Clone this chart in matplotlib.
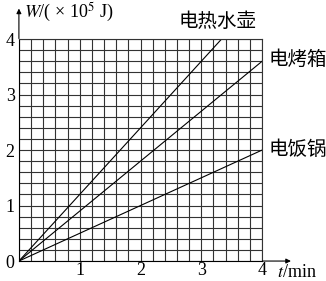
import matplotlib.pyplot as plt
from matplotlib.ticker import MultipleLocator

plt.rcParams['font.family'] = ['Liberation Serif', 'Noto Sans CJK SC']
plt.rcParams['mathtext.fontset'] = 'stix'

# time (min) and energy W (x 10^5 J)
t = [0, 4]
kettle = [0, 4.8]
oven = [0, 3.6]
cooker = [0, 2.0]
names = ["电热水壶", "电烤箱", "电饭锅"]

fig = plt.figure(figsize=(3.26, 2.81), dpi=100)
ax = fig.add_axes([0.058, 0.071, 0.746, 0.79])

ax.set_xlim(0, 4)
ax.set_ylim(0, 4)
ax.xaxis.set_minor_locator(MultipleLocator(0.2))
ax.yaxis.set_minor_locator(MultipleLocator(0.2))
ax.set_xticks([1, 2, 3, 4])
ax.set_yticks([0, 1, 2, 3, 4])
ax.grid(which='both', color='#333333', linewidth=0.8)
ax.set_axisbelow(True)
ax.tick_params(which='both', length=0, labelsize=13)
ax.tick_params(axis='x', pad=0.5)
ax.tick_params(axis='y', pad=3)
for s in ax.spines.values():
    s.set_color('#333333')
    s.set_linewidth(0.8)
ax.spines['left'].set_color('black')
ax.spines['bottom'].set_color('black')

for w in (kettle, oven, cooker):
    ax.plot(t, w, color='black', linewidth=0.8)

# axis arrows
ax.annotate('', xy=(1.13, 0), xytext=(0.99, 0), xycoords='axes fraction',
            arrowprops=dict(arrowstyle='-|>', color='black', lw=0.8, mutation_scale=7))
ax.annotate('', xy=(0, 1.15), xytext=(0, 0.99), xycoords='axes fraction',
            arrowprops=dict(arrowstyle='-|>', color='black', lw=0.8, mutation_scale=7))

ax.text(0.02, 1.12, r'$W$/( × 10$^5$ J)', transform=ax.transAxes, fontsize=13,
        va='center', ha='left')
ax.text(1.06, -0.05, r'$t$/min', transform=ax.transAxes, fontsize=13,
        va='center', ha='left')

ax.text(0.815, 1.08, names[0], transform=ax.transAxes, fontsize=14, ha='center', va='center')
ax.text(1.025, 0.905, names[1], transform=ax.transAxes, fontsize=14, ha='left', va='center')
ax.text(1.025, 0.5, names[2], transform=ax.transAxes, fontsize=14, ha='left', va='center')

fig.savefig('out.png', dpi=100)
